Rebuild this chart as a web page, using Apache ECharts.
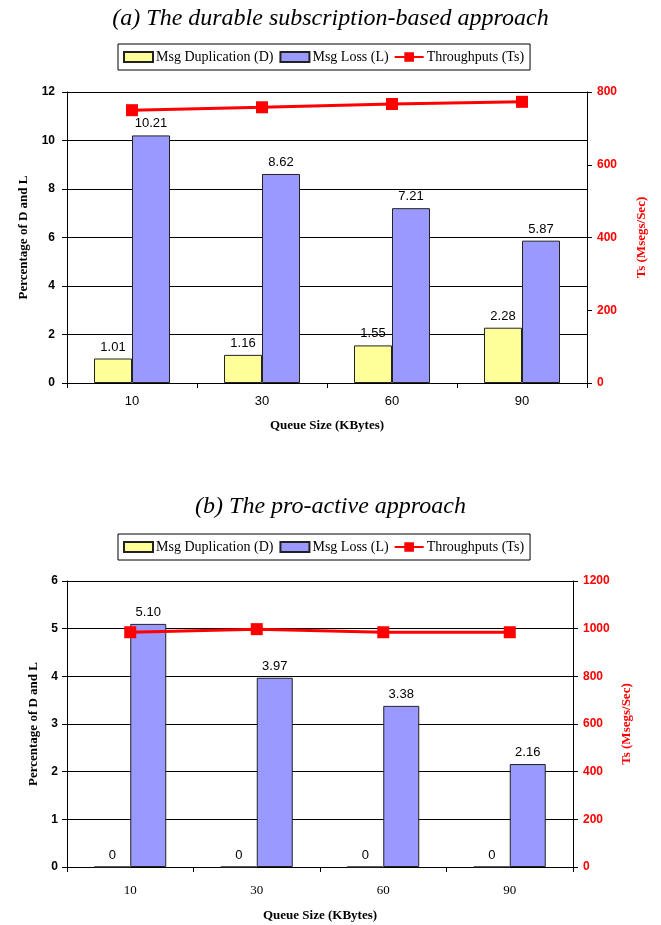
<!DOCTYPE html>
<html><head><meta charset="utf-8">
<script src="https://cdn.jsdelivr.net/npm/echarts@6/dist/echarts.min.js"></script>
<style>html,body{margin:0;padding:0;background:#fff}#c{width:661px;height:925px}</style>
</head><body><div id="c"></div>
<script>
const categories = ['10', '30', '60', '90'];
const dupA = [1.01, 1.16, 1.55, 2.28];
const lossA = [10.21, 8.62, 7.21, 5.87];
const tsA = [750, 758, 767, 773];
const dupB = [0, 0, 0, 0];
const lossB = [5.10, 3.97, 3.38, 2.16];
const tsB = [985, 998, 985, 985];
const leftTicksA = [0, 12, 2];
const rightTicksA = [0, 800, 200];
const leftTicksB = [0, 6, 1];
const rightTicksB = [0, 1200, 200];

const SERIF = 'Liberation Serif';
const SANS = 'Liberation Sans';
const YEL = '#FFFF99', BLU = '#9999FF', RED = '#FF0000';

const chart = echarts.init(document.getElementById('c'), null, {renderer: 'canvas'});

function xAxis(gi, labelFont, margin, nameGap) {
  return {
    type: 'category', gridIndex: gi, data: categories,
    axisLine: {lineStyle: {color: '#000', width: 1}},
    axisTick: {show: true, length: 5, lineStyle: {color: '#000'}},
    axisLabel: {fontFamily: labelFont, fontSize: 13, color: '#000', margin: margin},
    name: 'Queue Size (KBytes)', nameLocation: 'middle', nameGap: nameGap,
    nameTextStyle: {fontFamily: SERIF, fontWeight: 'bold', fontSize: 13, color: '#000'}
  };
}
function yLeft(gi, t, nameGap, margin) {
  return {
    type: 'value', gridIndex: gi, position: 'left', min: t[0], max: t[1], interval: t[2],
    axisLine: {show: true, lineStyle: {color: '#000'}},
    axisTick: {show: true, length: 5, lineStyle: {color: '#000'}},
    axisLabel: {fontFamily: SANS, fontWeight: 'bold', fontSize: 12, color: '#000', margin: margin},
    splitLine: {show: true, lineStyle: {color: '#000', width: 1}},
    name: 'Percentage of D and L', nameLocation: 'middle', nameRotate: 90, nameGap: nameGap,
    nameTextStyle: {fontFamily: SERIF, fontWeight: 'bold', fontSize: 13, color: '#000'}
  };
}
function yRight(gi, t, nameGap) {
  return {
    type: 'value', gridIndex: gi, position: 'right', min: t[0], max: t[1], interval: t[2],
    axisLine: {show: true, lineStyle: {color: '#000'}},
    axisTick: {show: true, length: 5, lineStyle: {color: '#000'}},
    axisLabel: {fontFamily: SANS, fontWeight: 'bold', fontSize: 12, color: RED, margin: 10,
                formatter: v => String(v)},
    splitLine: {show: false},
    name: 'Ts (Msegs/Sec)', nameLocation: 'middle', nameRotate: 90, nameGap: nameGap,
    nameTextStyle: {fontFamily: SERIF, fontWeight: 'bold', fontSize: 13, color: RED}
  };
}
function barSeries(name, data, xi, yi, color, bw, fmt) {
  return {
    type: 'bar', name: name, data: data, xAxisIndex: xi, yAxisIndex: yi,
    barWidth: bw, barGap: '0%',
    itemStyle: {color: color, borderColor: '#222', borderWidth: 1},
    label: {show: true, position: 'top', distance: 5, fontFamily: SANS, fontSize: 13, color: '#000', formatter: fmt},
    z: 2
  };
}
function lineSeries(data, xi, yi) {
  return {
    type: 'line', name: 'Throughputs (Ts)', data: data, xAxisIndex: xi, yAxisIndex: yi,
    symbol: 'rect', symbolSize: 12,
    lineStyle: {color: RED, width: 3}, itemStyle: {color: RED},
    z: 5
  };
}
const fmt2 = p => p.value.toFixed(2);
const fmtZ = p => p.value === 0 ? '0' : p.value.toFixed(2);

const LINE_ICON = 'path://M0,4 L10,4 L10,0 L20,0 L20,4 L30,4 L30,6 L20,6 L20,10 L10,10 L10,6 L0,6 Z';
function legend(top) {
  return {
    left: 118, top: top, orient: 'horizontal',
    data: [
      {name: 'Msg Duplication (D)', icon: 'rect'},
      {name: 'Msg Loss (L)', icon: 'rect'},
      {name: 'Throughputs (Ts)', icon: LINE_ICON, itemStyle: {color: RED, borderWidth: 0}}
    ],
    itemWidth: 29, itemHeight: 10, itemGap: 6,
    padding: [6, 6, 6, 5], borderColor: '#000', borderWidth: 1,
    textStyle: {fontFamily: SERIF, fontSize: 14, color: '#000', padding: [0, 0, 0, -2]}
  };
}

chart.setOption({
  animation: false,
  backgroundColor: '#fff',
  title: [
    {text: '(a) The durable subscription-based approach', left: 'center', top: 2,
     textStyle: {fontFamily: SERIF, fontStyle: 'italic', fontWeight: 'normal', fontSize: 24, color: '#000'}},
    {text: '(b) The pro-active approach', left: 'center', top: 490,
     textStyle: {fontFamily: SERIF, fontStyle: 'italic', fontWeight: 'normal', fontSize: 24, color: '#000'}}
  ],
  legend: [legend(44), legend(534)],
  grid: [
    {left: 67, top: 92, width: 520, height: 291},
    {left: 67, top: 581, width: 506, height: 286}
  ],
  xAxis: [xAxis(0, SANS, 12, 36), xAxis(1, SERIF, 17, 42)],
  yAxis: [yLeft(0, leftTicksA, 37, 12), yRight(0, rightTicksA, 48), yLeft(1, leftTicksB, 27, 9), yRight(1, rightTicksB, 47)],
  series: [
    barSeries('Msg Duplication (D)', dupA, 0, 0, YEL, 38, fmt2),
    barSeries('Msg Loss (L)', lossA, 0, 0, BLU, 38, fmt2),
    lineSeries(tsA, 0, 1),
    barSeries('Msg Duplication (D)', dupB, 1, 2, YEL, 36, fmtZ),
    barSeries('Msg Loss (L)', lossB, 1, 2, BLU, 36, fmt2),
    lineSeries(tsB, 1, 3)
  ]
});
</script></body></html>
